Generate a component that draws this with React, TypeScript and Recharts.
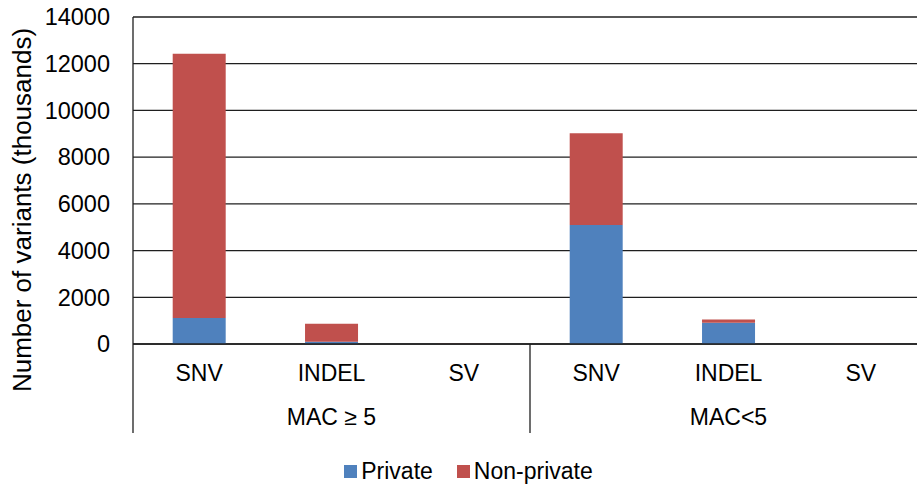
import { Bar, BarChart, CartesianGrid, Legend, XAxis, YAxis } from "recharts";

const categories = ["SNV", "INDEL", "SV", "SNV", "INDEL", "SV"];
const groups = ["MAC ≥ 5", "MAC<5"];
const groupOf = [0, 0, 0, 1, 1, 1];
const privateCounts = [1110, 100, 5, 5090, 910, 5];
const nonPrivateCounts = [11320, 770, 5, 3930, 140, 5];
const yTicks = [0, 2000, 4000, 6000, 8000, 10000, 12000, 14000];

const data = categories.map((c, i) => ({
  key: `${groups[groupOf[i]]}-${c}`,
  category: c,
  private: privateCounts[i],
  nonPrivate: nonPrivateCounts[i],
}));

// chart is a bit wider than the window, the right edge is cropped like in the source
const W = 930;
const H = 491;
const AXIS_W = 133;
const RIGHT = 3;
const BAND = (W - AXIS_W - RIGHT) / categories.length;
const FONT = "Arial, 'Liberation Sans', Helvetica, sans-serif";
const INK = "#1f1f1f";
const BLUE = "#4F81BD";
const RED = "#C0504D";

function CategoryTick(props: any) {
  const { x, y, index } = props;
  const g = groupOf[index];
  const isFirst = index === 0 || groupOf[index - 1] !== g;
  const n = groupOf.filter((v) => v === g).length;
  return (
    <g>
      <text x={x} y={y + 36.5} textAnchor="middle" fontSize={23} fill="#000" fontFamily={FONT}>
        {categories[index]}
      </text>
      {isFirst && (
        <>
          <line x1={x - BAND / 2} x2={x - BAND / 2} y1={y} y2={y + 89} stroke={INK} strokeWidth={1.3} />
          <text
            x={x - BAND / 2 + (n * BAND) / 2}
            y={y + 80.5}
            textAnchor="middle"
            fontSize={23}
            fill="#000"
            fontFamily={FONT}
          >
            {groups[g]}
          </text>
        </>
      )}
    </g>
  );
}

function YTitle() {
  return (
    <text
      x={22}
      y={210}
      transform="rotate(-90, 22, 210)"
      textAnchor="middle"
      dominantBaseline="central"
      fontSize={26}
      fill="#000"
      fontFamily={FONT}
    >
      Number of variants (thousands)
    </text>
  );
}

function LegendContent() {
  const items = [
    { label: "Private", color: BLUE },
    { label: "Non-private", color: RED },
  ];
  return (
    <div
      style={{
        height: 30,
        display: "flex",
        justifyContent: "center",
        alignItems: "center",
        paddingLeft: 10,
        fontFamily: FONT,
        fontSize: 23,
        color: "#000",
      }}
    >
      {items.map((it, i) => (
        <div key={it.label} style={{ display: "flex", alignItems: "center", marginLeft: i ? 24 : 0 }}>
          <span style={{ width: 13, height: 13, background: it.color, marginRight: 4, display: "inline-block" }} />
          <span>{it.label}</span>
        </div>
      ))}
    </div>
  );
}

export default function App() {
  return (
    <div style={{ width: 917, height: 491, overflow: "hidden", background: "#fff" }}>
      <style>{`body{margin:0}`}</style>
      <BarChart
        width={W}
        height={H}
        data={data}
        margin={{ top: 17, right: RIGHT, left: 0, bottom: 5 }}
        barCategoryGap="30%"
      >
        <CartesianGrid vertical={false} stroke={INK} strokeWidth={1.3} />
        <XAxis
          dataKey="key"
          height={112}
          interval={0}
          tickLine={false}
          tickSize={0}
          tickMargin={0}
          axisLine={{ stroke: INK, strokeWidth: 1.3 }}
          tick={<CategoryTick />}
        />
        <YAxis
          width={AXIS_W}
          domain={[0, 14000]}
          ticks={yTicks}
          interval={0}
          tickLine={false}
          tickSize={0}
          tickMargin={23}
          axisLine={{ stroke: INK, strokeWidth: 1.3 }}
          tick={{ fontSize: 23.5, fill: "#000", fontFamily: FONT }}
          label={<YTitle />}
        />
        <Legend verticalAlign="bottom" content={<LegendContent />} />
        <Bar dataKey="private" name="Private" stackId="a" fill={BLUE} isAnimationActive={false} />
        <Bar dataKey="nonPrivate" name="Non-private" stackId="a" fill={RED} isAnimationActive={false} />
      </BarChart>
    </div>
  );
}
